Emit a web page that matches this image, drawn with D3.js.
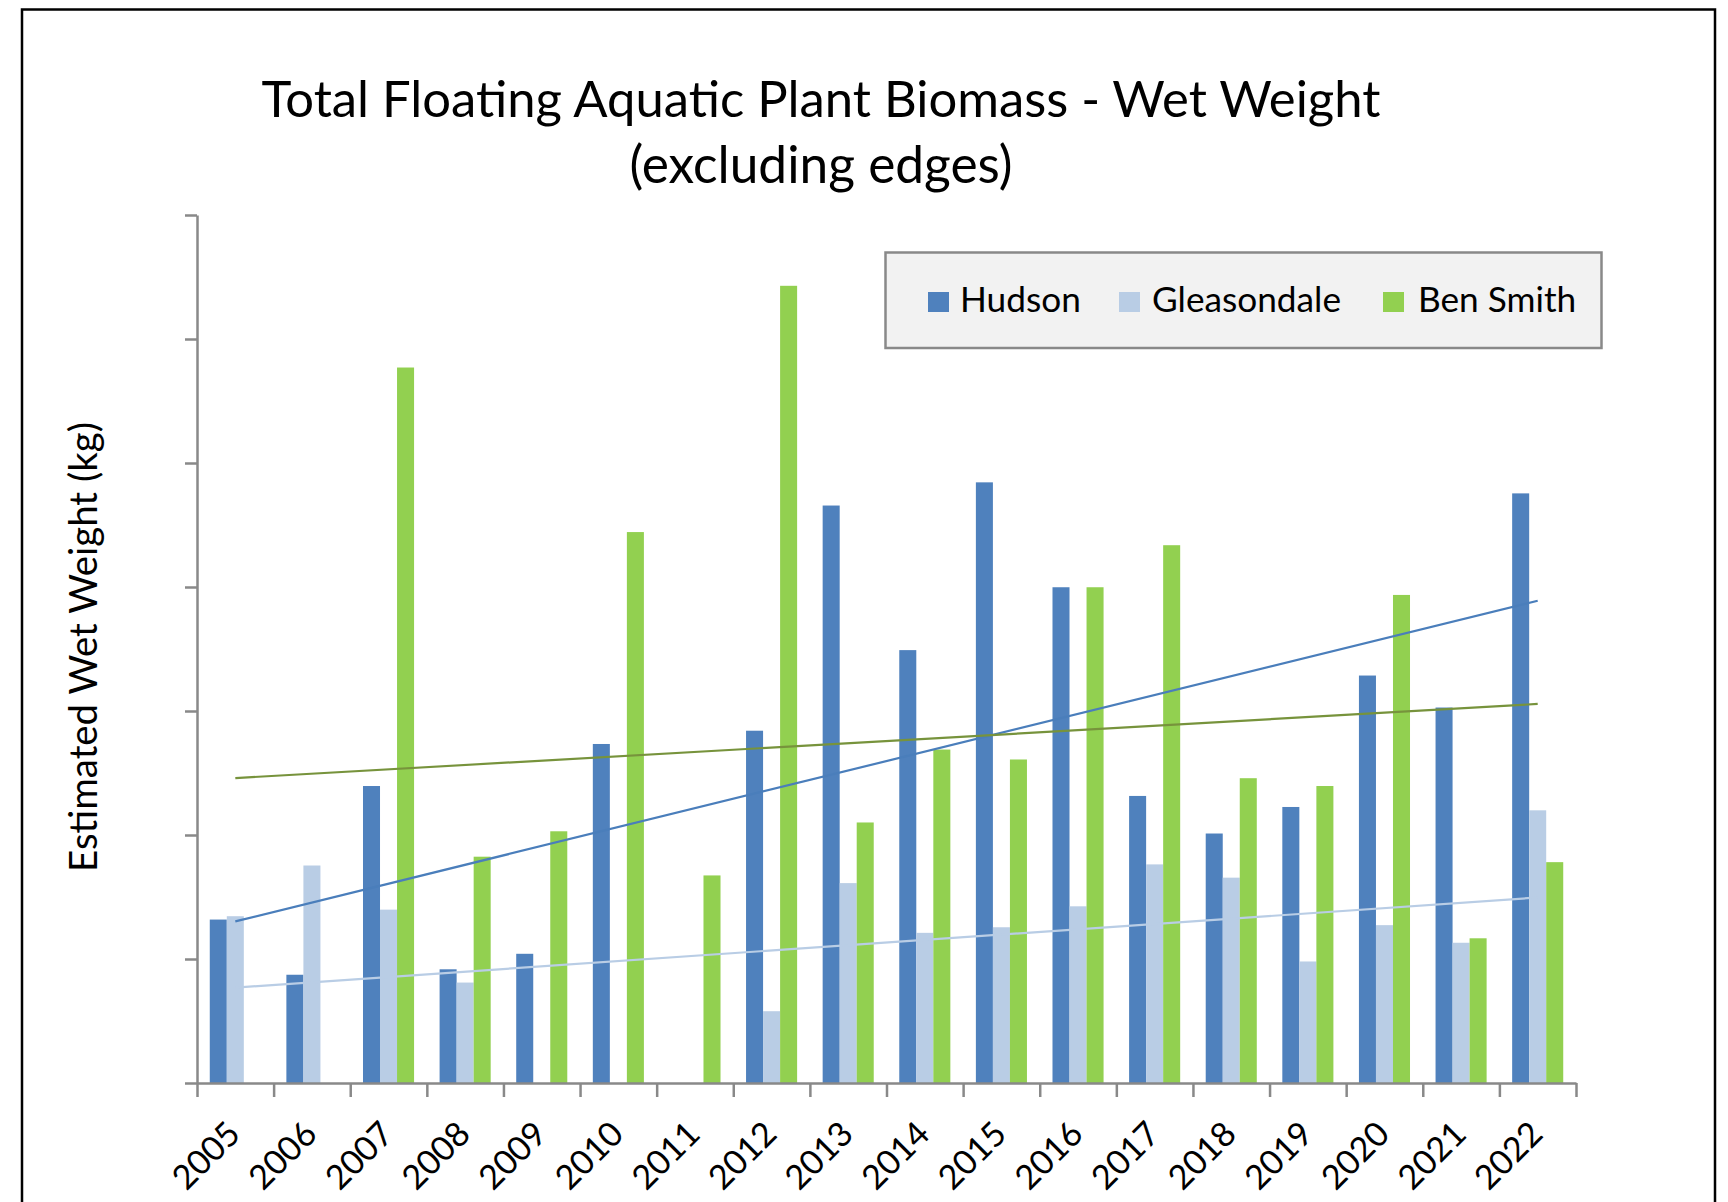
<!DOCTYPE html>
<html>
<head>
<meta charset="utf-8">
<script src="https://cdn.jsdelivr.net/npm/d3@7"></script>
<style>
  html, body { margin: 0; padding: 0; background: #ffffff; }
  svg { display: block; }
  text { font-family: "Lato", "Open Sans", sans-serif; fill: #000; }
</style>
</head>
<body>
<svg id="chart" width="1728" height="1202"></svg>
<script>
// ---- data (y axis has no labels, units arbitrary kg) ----
const years = ["2005","2006","2007","2008","2009","2010","2011","2012","2013","2014","2015","2016","2017","2018","2019","2020","2021","2022"];
const seriesNames = ["Hudson", "Gleasondale", "Ben Smith"];
const hudson      = [1318, 873, 2395, 917, 1042, 2734, 0, 2841, 4657, 3491, 4844, 3998, 2315, 2012, 2226, 3286, 3028, 4755];
const gleasondale = [1345, 1754, 1398, 810, 0, 0, 0, 579, 1612, 1211, 1256, 1425, 1763, 1656, 980, 1273, 1131, 2199];
const benSmith    = [0, 0, 5770, 1825, 2030, 4443, 1674, 6429, 2101, 2689, 2609, 3998, 4337, 2458, 2395, 3936, 1167, 1781];
const yTicks = [0, 1000, 2000, 3000, 4000, 5000, 6000, 7000];
const titleLines = ["Total Floating Aquatic Plant Biomass - Wet Weight", "(excluding edges)"];
const yLabel = "Estimated Wet Weight (kg)";

const barColors = ["#4F81BD", "#B9CDE5", "#92D050"];
const trendColors = ["#4A7EBB", "#B9CDE5", "#77933C"];
const seriesValues = [hudson, gleasondale, benSmith];

const svg = d3.select("#chart");

// outer border
svg.append("rect").attr("x", 22).attr("y", 9.5).attr("width", 1693).attr("height", 1260)
  .attr("fill", "#fff").attr("stroke", "#000").attr("stroke-width", 2.5);

function fit(sel, target) {
  const w = sel.node().getComputedTextLength();
  const fs = parseFloat(sel.attr("font-size"));
  sel.attr("font-size", fs * target / w);
}

// scales
const x = d3.scaleBand().domain(years).range([197, 1576]).paddingInner(0).paddingOuter(0);
const xSub = d3.scaleBand().domain(seriesNames).range([0, x.bandwidth()]).paddingInner(0).paddingOuter(0.75);
const y = d3.scaleLinear().domain([0, 7000]).range([1083, 215]);

// bars
seriesNames.forEach((name, si) => {
  svg.append("g").selectAll("rect")
    .data(years.map((yr, i) => ({ yr, v: seriesValues[si][i] })))
    .join("rect")
    .attr("x", d => x(d.yr) + xSub(name))
    .attr("y", d => y(d.v))
    .attr("width", xSub.bandwidth())
    .attr("height", d => y(0) - y(d.v))
    .attr("fill", barColors[si]);
});

// linear trendlines (least squares, as in the spreadsheet)
seriesNames.forEach((name, si) => {
  const vals = seriesValues[si];
  const n = vals.length;
  const xs = d3.range(n);
  const mx = d3.mean(xs), my = d3.mean(vals);
  const sxy = d3.sum(xs, i => (i - mx) * (vals[i] - my));
  const sxx = d3.sum(xs, i => (i - mx) * (i - mx));
  const b = sxy / sxx, a = my - b * mx;
  const pts = [0, n - 1].map(i => [x(years[i]) + x.bandwidth() / 2, y(a + b * i)]);
  svg.append("path").attr("d", d3.line()(pts))
    .attr("fill", "none").attr("stroke", trendColors[si]).attr("stroke-width", 2.2);
});

// y axis (ticks only, no labels)
const yAxis = svg.append("g").attr("transform", "translate(197,0)")
  .call(d3.axisLeft(y).tickValues(yTicks).tickSize(12).tickSizeOuter(0).tickFormat(""));
yAxis.select(".domain").attr("stroke", "#898989").attr("stroke-width", 2.5);
yAxis.selectAll(".tick line").attr("stroke", "#898989").attr("stroke-width", 2.5);

// x axis with ticks at category boundaries
const xb = d3.scaleLinear().domain([0, years.length]).range(x.range());
const xAxis = svg.append("g").attr("transform", "translate(0,1083)")
  .call(d3.axisBottom(xb).tickValues(d3.range(years.length + 1)).tickSize(14).tickSizeOuter(0).tickFormat(""));
xAxis.select(".domain").attr("stroke", "#898989").attr("stroke-width", 2.5);
xAxis.selectAll(".tick line").attr("stroke", "#898989").attr("stroke-width", 2.5);

// x labels rotated
const xl = svg.append("g").selectAll("text").data(years).join("text")
  .attr("transform", d => `translate(${x(d) + x.bandwidth() / 2 + 7},1136) rotate(-45)`)
  .attr("text-anchor", "end")
  .attr("font-size", 30)
  .text(d => d);
{
  const w = xl.node().getComputedTextLength();
  xl.attr("font-size", 30 * 79 / w);
}

// title
const t1 = svg.append("text").attr("x", 821).attr("y", 117).attr("text-anchor", "middle")
  .attr("font-size", 47).text(titleLines[0]);
fit(t1, 1119);
const t2 = svg.append("text").attr("x", 821).attr("y", 183).attr("text-anchor", "middle")
  .attr("font-size", 47).text(titleLines[1]);
fit(t2, 383);

// y label
const yl = svg.append("text").attr("transform", "translate(97,647) rotate(-90)")
  .attr("text-anchor", "middle").attr("font-size", 36).text(yLabel);
fit(yl, 450);

// legend
svg.append("rect").attr("x", 885.5).attr("y", 252.5).attr("width", 716).attr("height", 95.5)
  .attr("fill", "#F2F2F2").attr("stroke", "#898989").attr("stroke-width", 2.5);
const legX = [928, 1119, 1383];
const legTextX = [960, 1152, 1418];
const lg = svg.append("g");
seriesNames.forEach((name, si) => {
  lg.append("rect").attr("x", legX[si]).attr("y", 292).attr("width", 21).attr("height", 20)
    .attr("fill", barColors[si]);
});
const lt = lg.selectAll("text.leg").data(seriesNames).join("text").attr("class", "leg")
  .attr("x", (d, i) => legTextX[i]).attr("y", 312).attr("font-size", 32).text(d => d);
{
  const w = lt.nodes()[1].getComputedTextLength();
  lt.attr("font-size", 32 * 189 / w);
}
</script>
</body>
</html>
